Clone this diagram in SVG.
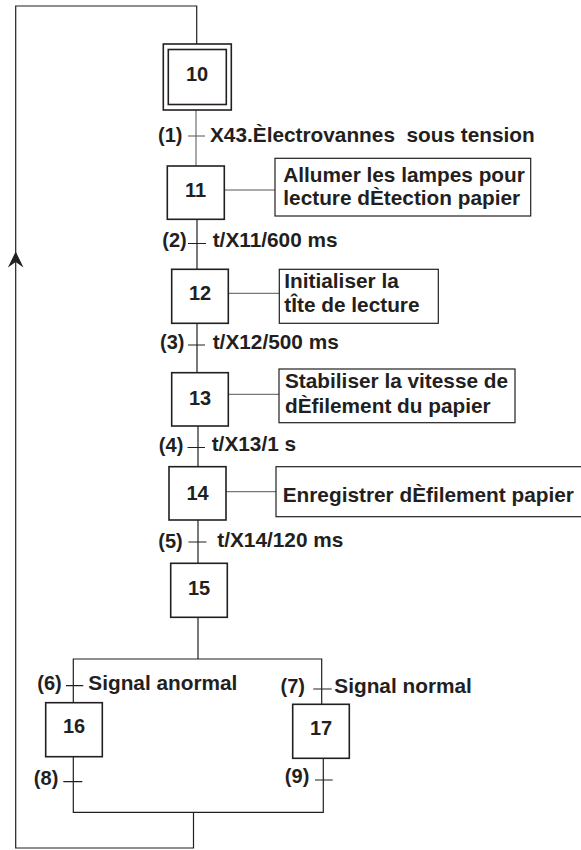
<svg xmlns="http://www.w3.org/2000/svg" width="581" height="850" viewBox="0 0 581 850">
<style>
.step{fill:#fff;stroke:#231f20;stroke-width:1.6}
.act{fill:#fff;stroke:#231f20;stroke-width:1.2}
.ln{fill:none;stroke:#231f20;stroke-width:1.2}
.thin{fill:none;stroke:#555;stroke-width:1}
text{font-family:"Liberation Sans",Arial,Helvetica,sans-serif;font-weight:bold;fill:#231f20}
.num{font-size:20px;text-anchor:middle}
.lbl{font-size:20.8px}
.tr{font-size:20px;text-anchor:end}
</style>
<g id="connectors">
<path class="ln" d="M193.5,812 V848 H15.7 V6 H196.7 V44"/>
<path d="M15.7,251.5 L23.5,267.5 L15.7,262 L7.9,267.5 Z" fill="#231f20"/>
<path class="thin" d="M196,110 V166 M188,136 H205"/>
<path class="ln" d="M197,219 V269 M188,243.5 H206"/>
<path class="ln" d="M197,323 V373 M188,345 H205"/>
<path class="ln" d="M198,426 V467 M187.5,447.5 H205"/>
<path class="ln" d="M198,520 V563 M188.5,542 H206.5"/>
<path class="ln" d="M198,617 V659 M73.3,703 V659 H321.7 V704"/>
<path class="ln" d="M66,685.7 H83.3 M313.3,689 H331.7"/>
<path class="ln" d="M73.3,757 V812.3 H323.3 V758.3 M63.3,781.7 H82.3 M315,780 H332.7"/>
<path class="thin" d="M224,190 H275 M228,293.3 H279 M228,394.3 H279 M226,491.7 H276"/>
</g>
<g id="step10"><rect class="step" x="163.3" y="44" width="68" height="66"/><rect class="step" x="168.3" y="49.5" width="58" height="55"/><text class="num" x="197" y="81">10</text></g>
<g id="step11"><rect class="step" x="167.3" y="166" width="57" height="53.3"/><text class="num" x="195.5" y="197.3">11</text></g>
<g id="step12"><rect class="step" x="171.7" y="269.3" width="56.6" height="54"/><text class="num" x="200" y="300">12</text></g>
<g id="step13"><rect class="step" x="171.7" y="372.7" width="56.6" height="53.3"/><text class="num" x="200" y="405">13</text></g>
<g id="step14"><rect class="step" x="169" y="466.7" width="57" height="53.3"/><text class="num" x="197.5" y="499.5">14</text></g>
<g id="step15"><rect class="step" x="170.7" y="563.3" width="56.6" height="54"/><text class="num" x="199" y="595">15</text></g>
<g id="step16"><rect class="step" x="45.7" y="702.7" width="56.6" height="54"/><text class="num" x="74" y="733">16</text></g>
<g id="step17"><rect class="step" x="292.7" y="704.3" width="56.6" height="54"/><text class="num" x="321" y="735">17</text></g>
<g id="action11"><rect class="act" x="275" y="158.3" width="255.7" height="57.7"/><text class="lbl" x="283.3" y="181.7">Allumer les lampes pour</text><text class="lbl" x="283.3" y="205">lecture dÈtection papier</text></g>
<g id="action12"><rect class="act" x="279.3" y="269.3" width="159" height="54"/><text class="lbl" x="284.3" y="288.3">Initialiser la</text><text class="lbl" x="284.3" y="311.7">tÎte de lecture</text></g>
<g id="action13"><rect class="act" x="279" y="369" width="236" height="53.7"/><text class="lbl" x="285" y="388.3">Stabiliser la vitesse de</text><text class="lbl" x="285" y="413.3">dÈfilement du papier</text></g>
<g id="action14"><rect class="act" x="276" y="466.7" width="310" height="50"/><text class="lbl" x="282.7" y="501.7">Enregistrer dÈfilement papier</text></g>
<g id="t1"><text class="tr" x="182.5" y="141.7">(1)</text><text class="lbl" x="210" y="141.7">X43.Èlectrovannes&#160; sous tension</text></g>
<g id="t2"><text class="tr" x="186.7" y="246.7">(2)</text><text class="lbl" x="212.7" y="246.7">t/X11/600 ms</text></g>
<g id="t3"><text class="tr" x="184.5" y="349">(3)</text><text class="lbl" x="212.7" y="348.5">t/X12/500 ms</text></g>
<g id="t4"><text class="tr" x="183.3" y="451.7">(4)</text><text class="lbl" x="211.7" y="450.5">t/X13/1 s</text></g>
<g id="t5"><text class="tr" x="182.7" y="548">(5)</text><text class="lbl" x="217.3" y="547">t/X14/120 ms</text></g>
<g id="t6"><text class="tr" x="61.7" y="690">(6)</text><text class="lbl" x="88.3" y="690">Signal anormal</text></g>
<g id="t7"><text class="tr" x="305" y="693.3">(7)</text><text class="lbl" x="334.3" y="693.3">Signal normal</text></g>
<g id="t8"><text class="tr" x="58.3" y="785">(8)</text></g>
<g id="t9"><text class="tr" x="309.3" y="783">(9)</text></g>
</svg>
